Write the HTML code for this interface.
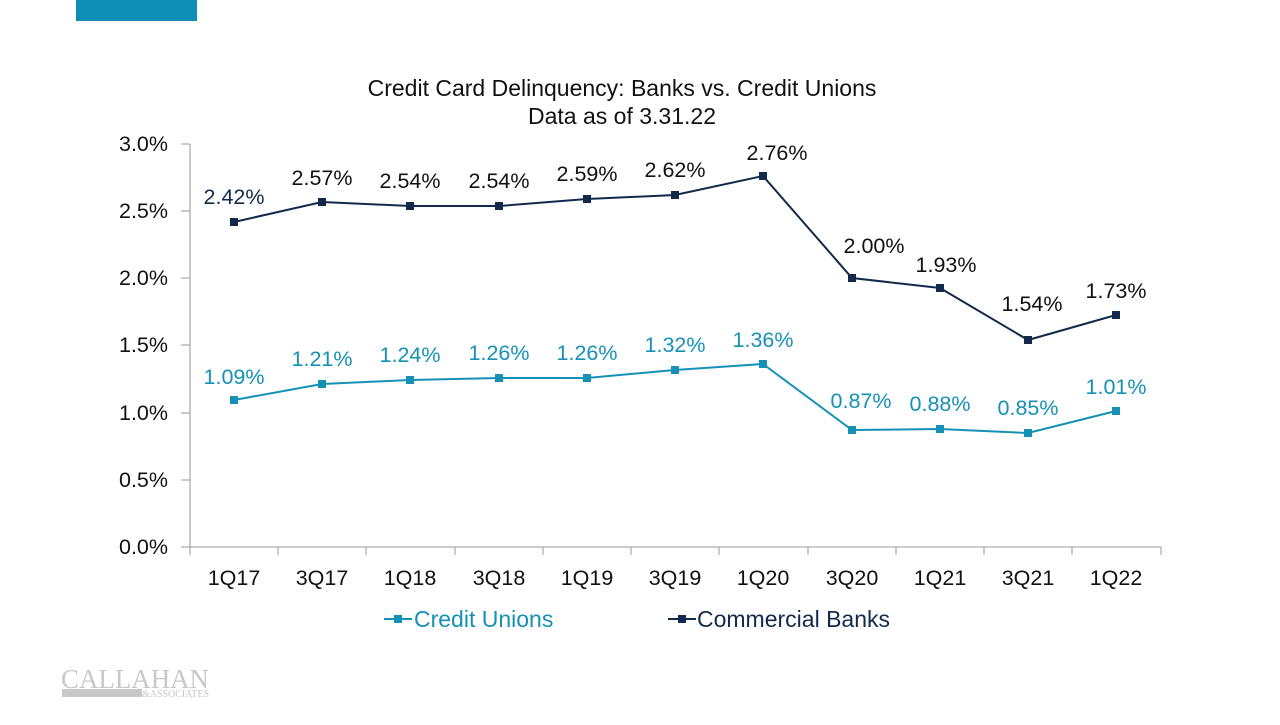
<!DOCTYPE html>
<html><head><style>
body{margin:0;width:1280px;height:720px;background:#fff;overflow:hidden;font-family:"Liberation Sans",sans-serif}
</style></head><body>
<svg width="1280" height="720" viewBox="0 0 1280 720" xmlns="http://www.w3.org/2000/svg" font-family="Liberation Sans, sans-serif">
<rect x="76" y="0" width="121" height="21" fill="#0f8fb5"/>
<text x="622" y="96" font-size="23" text-anchor="middle" fill="#111">Credit Card Delinquency: Banks vs. Credit Unions</text>
<text x="622" y="124" font-size="23" text-anchor="middle" fill="#111">Data as of 3.31.22</text>
<g stroke="#999" stroke-width="1">
<line x1="190" y1="144" x2="190" y2="547"/>
<line x1="190" y1="547" x2="1161" y2="547"/>
<line x1="181" y1="144" x2="190" y2="144"/><line x1="181" y1="211" x2="190" y2="211"/><line x1="181" y1="278" x2="190" y2="278"/><line x1="181" y1="345" x2="190" y2="345"/><line x1="181" y1="413" x2="190" y2="413"/><line x1="181" y1="480" x2="190" y2="480"/><line x1="181" y1="547" x2="190" y2="547"/>
<line x1="190" y1="547" x2="190" y2="555"/><line x1="278" y1="547" x2="278" y2="555"/><line x1="366" y1="547" x2="366" y2="555"/><line x1="455" y1="547" x2="455" y2="555"/><line x1="543" y1="547" x2="543" y2="555"/><line x1="631" y1="547" x2="631" y2="555"/><line x1="719" y1="547" x2="719" y2="555"/><line x1="808" y1="547" x2="808" y2="555"/><line x1="896" y1="547" x2="896" y2="555"/><line x1="984" y1="547" x2="984" y2="555"/><line x1="1072" y1="547" x2="1072" y2="555"/><line x1="1161" y1="547" x2="1161" y2="555"/>
</g>
<g font-size="21.5" fill="#111" text-anchor="end">
<text x="168" y="151">3.0%</text><text x="168" y="218">2.5%</text><text x="168" y="285">2.0%</text><text x="168" y="352">1.5%</text><text x="168" y="420">1.0%</text><text x="168" y="487">0.5%</text><text x="168" y="554">0.0%</text>
</g>
<g font-size="21.5" fill="#111" text-anchor="middle">
<text x="234" y="585">1Q17</text><text x="322" y="585">3Q17</text><text x="410" y="585">1Q18</text><text x="499" y="585">3Q18</text><text x="587" y="585">1Q19</text><text x="675" y="585">3Q19</text><text x="763" y="585">1Q20</text><text x="852" y="585">3Q20</text><text x="940" y="585">1Q21</text><text x="1028" y="585">3Q21</text><text x="1116" y="585">1Q22</text>
</g>
<polyline fill="none" stroke="#13294b" stroke-width="2" points="234,222 322,202 410,206 499,206 587,199 675,195 763,176 852,278 940,288 1028,340 1116,315"/>
<polyline fill="none" stroke="#1591b5" stroke-width="2" points="234,400 322,384 410,380 499,378 587,378 675,370 763,364 852,430 940,429 1028,433 1116,411"/>
<g fill="#13294b">
<rect x="230" y="218" width="8" height="8"/><rect x="318" y="198" width="8" height="8"/><rect x="406" y="202" width="8" height="8"/><rect x="495" y="202" width="8" height="8"/><rect x="583" y="195" width="8" height="8"/><rect x="671" y="191" width="8" height="8"/><rect x="759" y="172" width="8" height="8"/><rect x="848" y="274" width="8" height="8"/><rect x="936" y="284" width="8" height="8"/><rect x="1024" y="336" width="8" height="8"/><rect x="1112" y="311" width="8" height="8"/>
</g>
<g fill="#1591b5">
<rect x="230" y="396" width="8" height="8"/><rect x="318" y="380" width="8" height="8"/><rect x="406" y="376" width="8" height="8"/><rect x="495" y="374" width="8" height="8"/><rect x="583" y="374" width="8" height="8"/><rect x="671" y="366" width="8" height="8"/><rect x="759" y="360" width="8" height="8"/><rect x="848" y="426" width="8" height="8"/><rect x="936" y="425" width="8" height="8"/><rect x="1024" y="429" width="8" height="8"/><rect x="1112" y="407" width="8" height="8"/>
</g>
<g font-size="21.5" fill="#111" text-anchor="middle">
<text x="234" y="204" fill="#13294b">2.42%</text><text x="322" y="185">2.57%</text><text x="410" y="188">2.54%</text><text x="499" y="188">2.54%</text><text x="587" y="181">2.59%</text><text x="675" y="177">2.62%</text><text x="777" y="160">2.76%</text><text x="874" y="253">2.00%</text><text x="946" y="272">1.93%</text><text x="1032" y="311">1.54%</text><text x="1116" y="298">1.73%</text>
</g>
<g font-size="21.5" fill="#1591b5" text-anchor="middle">
<text x="234" y="384">1.09%</text><text x="322" y="366">1.21%</text><text x="410" y="362">1.24%</text><text x="499" y="360">1.26%</text><text x="587" y="360">1.26%</text><text x="675" y="352">1.32%</text><text x="763" y="347">1.36%</text><text x="861" y="408">0.87%</text><text x="940" y="411">0.88%</text><text x="1028" y="415">0.85%</text><text x="1116" y="394">1.01%</text>
</g>
<line x1="384" y1="619" x2="412" y2="619" stroke="#1591b5" stroke-width="2"/><rect x="394" y="615" width="8" height="8" fill="#1591b5"/>
<text x="414" y="627" font-size="23" fill="#1591b5">Credit Unions</text>
<line x1="668" y1="619" x2="696" y2="619" stroke="#13294b" stroke-width="2"/><rect x="678" y="615" width="8" height="8" fill="#13294b"/>
<text x="697" y="627" font-size="23" fill="#13294b">Commercial Banks</text>
<text x="61" y="688" font-size="27" font-family="Liberation Serif, serif" fill="#c8c8c8" textLength="148" lengthAdjust="spacingAndGlyphs">CALLAHAN</text>
<rect x="62" y="689" width="80" height="8" fill="#c8c8c8"/>
<text x="142" y="697" font-size="11" font-family="Liberation Serif, serif" fill="#c8c8c8" textLength="67" lengthAdjust="spacingAndGlyphs">&amp;ASSOCIATES</text>
</svg>
</body></html>
